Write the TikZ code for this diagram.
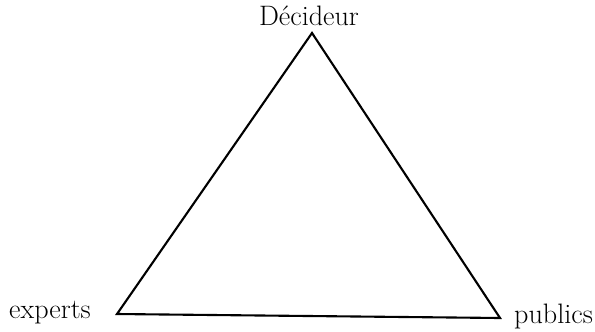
\documentclass[tikz,border=0pt]{standalone}
\usepackage{tikz}
\usetikzlibrary{positioning}

\begin{document}
\begin{tikzpicture}[x=0.03cm,y=-0.03cm,font=\fontsize{24}{28}\selectfont,
  side/.style={line width=1.8pt,line join=miter},
  lbl/.style={inner sep=0pt,anchor=base}]
  \useasboundingbox (0,0) rectangle (595,331);
  % ---------------- corners ----------------
  \coordinate (top) at (312,33);
  \coordinate (left) at (117,314);
  \coordinate (right) at (500,318);
  % ---------------- triangle ----------------
  \draw[side] (top) -- (left) -- (right) -- cycle;
  % ---------------- labels ----------------
  \node[lbl] (decideur) at (309,25) {Décideur};
  \node[lbl,anchor=base west] (experts) at (9,318) {experts};
  \node[lbl,anchor=base west] (publics) at (514,323) {publics};
\end{tikzpicture}
\end{document}
